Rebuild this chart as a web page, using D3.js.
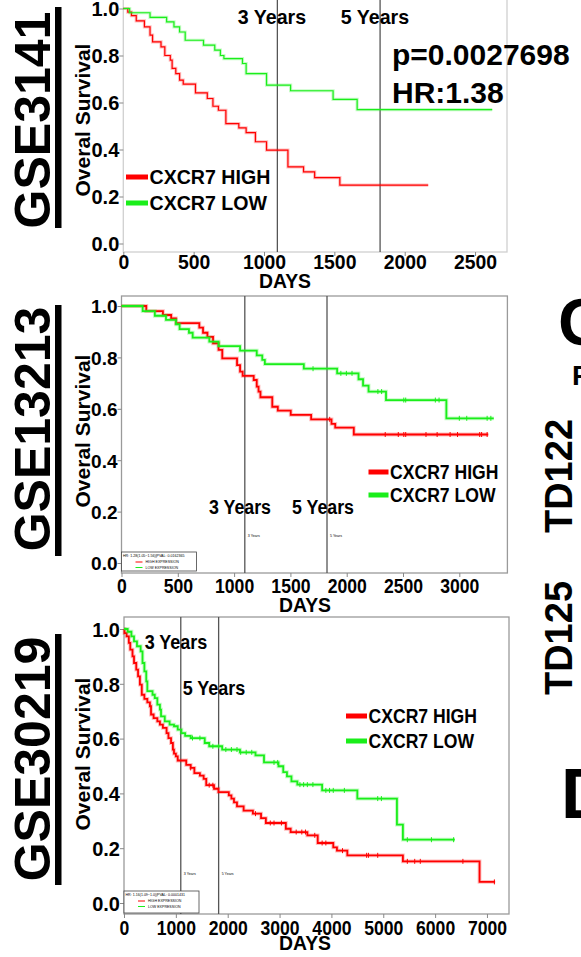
<!DOCTYPE html>
<html>
<head>
<meta charset="utf-8">
<script src="https://cdn.jsdelivr.net/npm/d3@7"></script>
<style>
  body { margin: 0; background: #fff; }
  svg { display: block; }
</style>
</head>
<body>
<div id="fig"></div>
<script>
// ---- data (days, survival) ----
const yTicks = [0, 0.2, 0.4, 0.6, 0.8, 1.0];
const legendLabels = ["CXCR7 HIGH", "CXCR7 LOW"];
const yearMarks = [1095, 1825];
const yearLabels = ["3 Years", "5 Years"];

// GSE3141
const gse3141Ticks = [0, 500, 1000, 1500, 2000, 2500];
const gse3141HighT = [0, 32, 58, 92, 150, 190, 208, 268, 295, 334, 347, 373, 400, 426, 513, 597, 637, 676, 729, 821, 873, 939, 1018, 1170, 1281, 1360, 1539, 2167];
const gse3141HighS = [1, .985, .97, .947, .922, .887, .858, .837, .80, .78, .745, .723, .695, .678, .641, .617, .584, .567, .51, .492, .472, .433, .397, .326, .305, .28, .248, .248];
const gse3141LowT = [0, 45, 190, 308, 360, 400, 440, 570, 650, 690, 715, 847, 873, 1018, 1189, 1491, 1662, 2622];
const gse3141LowS = [1, .982, .962, .943, .922, .90, .865, .844, .823, .80, .787, .766, .723, .674, .65, .613, .57, .57];
const gse3141Stats = ["p=0.0027698", "HR:1.38"];

// GSE13213
const gse13213Ticks = [0, 500, 1000, 1500, 2000, 2500, 3000];
const gse13213HighT = [0, 220, 368, 441, 484, 691, 724, 763, 813, 862, 895, 1026, 1053, 1076, 1174, 1201, 1217, 1234, 1339, 1388, 1503, 1684, 1865, 1898, 2063, 3257];
const gse13213HighS = [1, .98, .965, .952, .933, .916, .896, .88, .855, .829, .796, .77, .745, .728, .712, .686, .667, .645, .608, .593, .576, .559, .541, .527, .50, .50];
const gse13213LowT = [0, 188, 296, 395, 484, 516, 599, 632, 780, 862, 1053, 1201, 1250, 1273, 1619, 1915, 2105, 2145, 2194, 2349, 2885, 3306];
const gse13213LowS = [1, .98, .962, .946, .929, .91, .896, .877, .861, .844, .826, .808, .79, .774, .756, .738, .715, .69, .667, .634, .563, .563];
const gse13213HighCens = [1849, 2342, 2458, 2507, 2524, 2704, 2803, 2918, 2984, 3181, 3198, 3247];
const gse13213LowCens = [1701, 1948, 1997, 2047, 2277, 2310, 2507, 2524, 2787, 2820, 3000, 3066, 3247, 3280];
const gse13213Note = "HR: 1.28(1.05~1.56)|PVAL: 0.0162365";

// GSE30219
const gse30219Ticks = [0, 1000, 2000, 3000, 4000, 5000, 6000, 7000];
const gse30219HighT = [0, 10, 50, 93, 121, 164, 193, 236, 271, 307, 343, 393, 450, 500, 521, 571, 643, 693, 750, 821, 857, 907, 943, 964, 1000, 1036, 1200, 1286, 1357, 1464, 1536, 1586, 1736, 1821, 2021, 2071, 2121, 2179, 2307, 2486, 2643, 2736, 3121, 3214, 3536, 3736, 4036, 4107, 4307, 5379, 6857, 7157];
const gse30219HighS = [1, .985, .973, .949, .925, .90, .876, .852, .827, .797, .76, .745, .732, .718, .688, .675, .663, .651, .639, .62, .602, .584, .56, .545, .535, .52, .504, .493, .474, .465, .453, .43, .417, .405, .393, .381, .367, .353, .337, .326, .31, .292, .271, .259, .247, .219, .203, .191, .174, .152, .077, .077];
const gse30219LowT = [0, 71, 143, 193, 250, 321, 357, 393, 429, 450, 550, 593, 643, 693, 714, 786, 879, 964, 1036, 1107, 1179, 1286, 1557, 1643, 1893, 2236, 2536, 2700, 2979, 3071, 3143, 3229, 3343, 3821, 4500, 5264, 5379, 6379];
const gse30219LowS = [1, .99, .973, .955, .937, .918, .876, .845, .809, .773, .76, .748, .724, .706, .681, .663, .651, .645, .633, .62, .61, .602, .584, .572, .56, .55, .539, .513, .499, .478, .462, .444, .432, .411, .381, .286, .231, .231];
const gse30219HighCens = [1286, 1643, 1714, 2536, 2821, 2893, 3036, 3321, 3429, 3500, 3679, 3821, 3893, 4214, 4679, 4714, 4893, 5464, 5607, 5714, 6536, 7143];
const gse30219LowCens = [1321, 1464, 1714, 1821, 1964, 2071, 2179, 2250, 2357, 2464, 2893, 2964, 3393, 3464, 3536, 3643, 3893, 3964, 4036, 4250, 4893, 4964, 5464, 5929, 6357];
const gse30219Note = "HR: 1.16(1.09~1.0)|PVAL: 0.0001431";

const RED = "#ff0000", GREEN = "#1aee1a";
const FONT = "'Liberation Sans', Arial, Helvetica, sans-serif";

const W = 581, H = 957;
const svg = d3.select("#fig").append("svg")
    .attr("width", W).attr("height", H)
    .attr("font-family", FONT);
svg.append("rect").attr("width", W).attr("height", H).attr("fill", "#fff");

// text helper: sx squeezes the text horizontally like the pasted labels
function put(g, s, x, y, o) {
  return g.append("text")
    .attr("transform", `translate(${x},${y}) rotate(${o.rot || 0}) scale(${o.sx || 1},1)`)
    .attr("font-size", o.size)
    .attr("font-weight", o.weight || "bold")
    .attr("text-anchor", o.anchor || "start")
    .attr("fill", o.fill || "#000")
    .text(s);
}

const panels = [
  {name: "GSE3141", ticks: gse3141Ticks, high: [gse3141HighT, gse3141HighS], low: [gse3141LowT, gse3141LowS],
   highC: [], lowC: [], x0: 123.3, x1: 507, dmax: 2727, yTop: 8.5, yBot: 243.5, top: -1, bottom: 252,
   frame: "#d0d0d0", lw: 1.2, tickBase: 269, tickSx: 0.97, yFont: 20,
   yrs: [[272, 24], [375, 24]], yrSx: 0.98, small: null,
   leg: {x: 126, y: [177, 203], w: 22, sx: 0.98}, note: null,
   ylab: 120, days: [285, 288], title: [120, 7, 228]},
  {name: "GSE13213", ticks: gse13213Ticks, high: [gse13213HighT, gse13213HighS], low: [gse13213LowT, gse13213LowS],
   highC: gse13213HighCens, lowC: gse13213LowCens, x0: 121.5, x1: 507.4, dmax: 3427, yTop: 306, yBot: 563, top: 296, bottom: 573,
   frame: "#9a9a9a", lw: 1.8, tickBase: 593, tickSx: 0.88, yFont: 19,
   yrs: [[240, 514], [323, 514]], yrSx: 0.89, small: 537,
   leg: {x: 368.5, y: [472, 495], w: 20, sx: 0.88}, note: [gse13213Note, 552, 571],
   ylab: 431, days: [305, 612], title: [429, 305, 556]},
  {name: "GSE30219", ticks: gse30219Ticks, high: [gse30219HighT, gse30219HighS], low: [gse30219LowT, gse30219LowS],
   highC: gse30219HighCens, lowC: gse30219LowCens, x0: 124, x1: 509, dmax: 7425, yTop: 629, yBot: 903, top: 617, bottom: 914,
   frame: "#9a9a9a", lw: 1.8, tickBase: 935, tickSx: 0.88, yFont: 20,
   yrs: [[176, 649], [214, 695]], yrSx: 0.9, small: 875,
   leg: {x: 346, y: [716, 741], w: 21, sx: 0.88}, note: [gse30219Note, 891, 913],
   ylab: 754, days: [305, 950], title: [759, 634, 885]}
];

function drawPanel(p) {
  const x = d3.scaleLinear().domain([0, p.dmax]).range([p.x0, p.x1]);
  const y = d3.scaleLinear().domain([0, 1]).range([p.yBot, p.yTop]);
  const g = svg.append("g");

  // frame
  g.append("rect")
    .attr("x", p.x0).attr("y", p.top)
    .attr("width", p.x1 - p.x0).attr("height", p.bottom - p.top)
    .attr("fill", "none").attr("stroke", p.frame).attr("stroke-width", 1.3);

  // y axis
  g.append("g")
    .attr("transform", `translate(${p.x0},0)`)
    .call(d3.axisLeft(y).tickValues(yTicks).tickFormat(d3.format(".1f")).tickSize(4).tickPadding(0))
    .call(s => s.select(".domain").remove())
    .call(s => s.selectAll("line").attr("stroke", "#888"))
    .attr("font-family", FONT).attr("font-size", p.yFont).attr("font-weight", "bold")
    .call(s => s.selectAll("text").attr("fill", "#000").attr("dy", "0.36em"));

  // x axis
  g.append("g")
    .attr("transform", `translate(0,${p.bottom})`)
    .call(d3.axisBottom(x).tickValues(p.ticks).tickFormat(d3.format("d")).tickSize(4).tickPadding(0))
    .call(s => s.select(".domain").remove())
    .call(s => s.selectAll("line").attr("stroke", "#888"))
    .attr("font-family", FONT).attr("font-size", 20).attr("font-weight", "bold")
    .call(s => s.selectAll("text").attr("fill", "#000")
        .attr("y", p.tickBase - p.bottom).attr("dy", 0)
        .attr("transform", `scale(${p.tickSx},1)`));

  // 3 / 5 year lines
  g.selectAll(".yr").data(yearMarks).join("line")
    .attr("x1", d => x(d)).attr("x2", d => x(d))
    .attr("y1", p.top).attr("y2", p.bottom)
    .attr("stroke", "#555").attr("stroke-width", 1.3);

  // curves
  const line = d3.line().x(d => x(d[0])).y(d => y(d[1])).curve(d3.curveStepAfter);
  const groups = [[p.high, RED, p.highC], [p.low, GREEN, p.lowC]];
  groups.forEach(([ts, col, cens]) => {
    const pts = d3.zip(ts[0], ts[1]);
    g.append("path").attr("d", line(pts)).attr("fill", "none")
      .attr("stroke", col).attr("stroke-opacity", 0.25).attr("stroke-width", p.lw + 2);
    g.append("path").attr("d", line(pts)).attr("fill", "none")
      .attr("stroke", col).attr("stroke-width", p.lw);
    g.selectAll(null).data(cens).join("line")
      .attr("x1", d => x(d)).attr("x2", d => x(d))
      .attr("y1", d => y(ts[1][d3.bisectRight(ts[0], d) - 1]) - 2.5)
      .attr("y2", d => y(ts[1][d3.bisectRight(ts[0], d) - 1]) + 2.5)
      .attr("stroke", col).attr("stroke-width", 1);
  });

  // year labels (big pasted ones)
  yearLabels.forEach((t, i) => put(g, t, p.yrs[i][0], p.yrs[i][1], {size: 20, anchor: "middle", sx: p.yrSx}));
  // tiny original year labels
  if (p.small) {
    yearMarks.forEach((d, i) => put(g, yearLabels[i], x(d) + 3, p.small, {size: 3.6, weight: "normal"}));
  }

  // big legend
  legendLabels.forEach((t, i) => {
    g.append("rect").attr("x", p.leg.x).attr("y", p.leg.y[i] - 2.5)
      .attr("width", p.leg.w).attr("height", 5).attr("fill", i ? GREEN : RED);
    put(g, t, p.leg.x + p.leg.w + 1.5, p.leg.y[i] + 7, {size: 20, sx: p.leg.sx});
  });

  // small original legend box
  if (p.note) {
    const [txt, nt, nb] = p.note;
    const bx = p.x0, bw = 75;
    g.append("rect").attr("x", bx).attr("y", nt).attr("width", bw).attr("height", nb - nt)
      .attr("fill", "#fff").attr("stroke", "#444").attr("stroke-width", 0.8);
    put(g, txt, bx + 1.5, nt + 4.5, {size: 3.6, weight: "normal"});
    ["HIGH EXPRESSION", "LOW EXPRESSION"].forEach((t, i) => {
      const yy = nt + 10 + i * 5.5;
      g.append("line").attr("x1", bx + 14).attr("x2", bx + 21).attr("y1", yy).attr("y2", yy)
        .attr("stroke", i ? GREEN : RED).attr("stroke-width", 1);
      put(g, t, bx + 24, yy + 1.3, {size: 3.6, weight: "normal"});
    });
  }

  // axis titles
  put(g, "Overal Survival", 90, p.ylab, {size: 21, anchor: "middle", rot: -90});
  put(g, "DAYS", p.days[0], p.days[1], {size: 20, anchor: "middle", sx: 0.97});

  // dataset label with underline bar
  put(g, p.name, 50, p.title[0], {size: 50, anchor: "middle", rot: -90});
  g.append("rect").attr("x", 55).attr("y", p.title[1]).attr("width", 6.5)
    .attr("height", p.title[2] - p.title[1]).attr("fill", "#000");
}

panels.forEach(drawPanel);

// p-value and HR of GSE3141
put(svg, gse3141Stats[0], 392, 65, {size: 30});
put(svg, gse3141Stats[1], 392, 103, {size: 30});

// fragments of the neighbouring panels at the right edge
put(svg, "C", 558, 345, {size: 67});
put(svg, "F", 572, 385, {size: 28});
put(svg, "TD122", 572, 476, {size: 38, anchor: "middle", rot: -90});
put(svg, "TD125", 572, 638, {size: 38, anchor: "middle", rot: -90});
put(svg, "D", 561, 818, {size: 70});
</script>
</body>
</html>
